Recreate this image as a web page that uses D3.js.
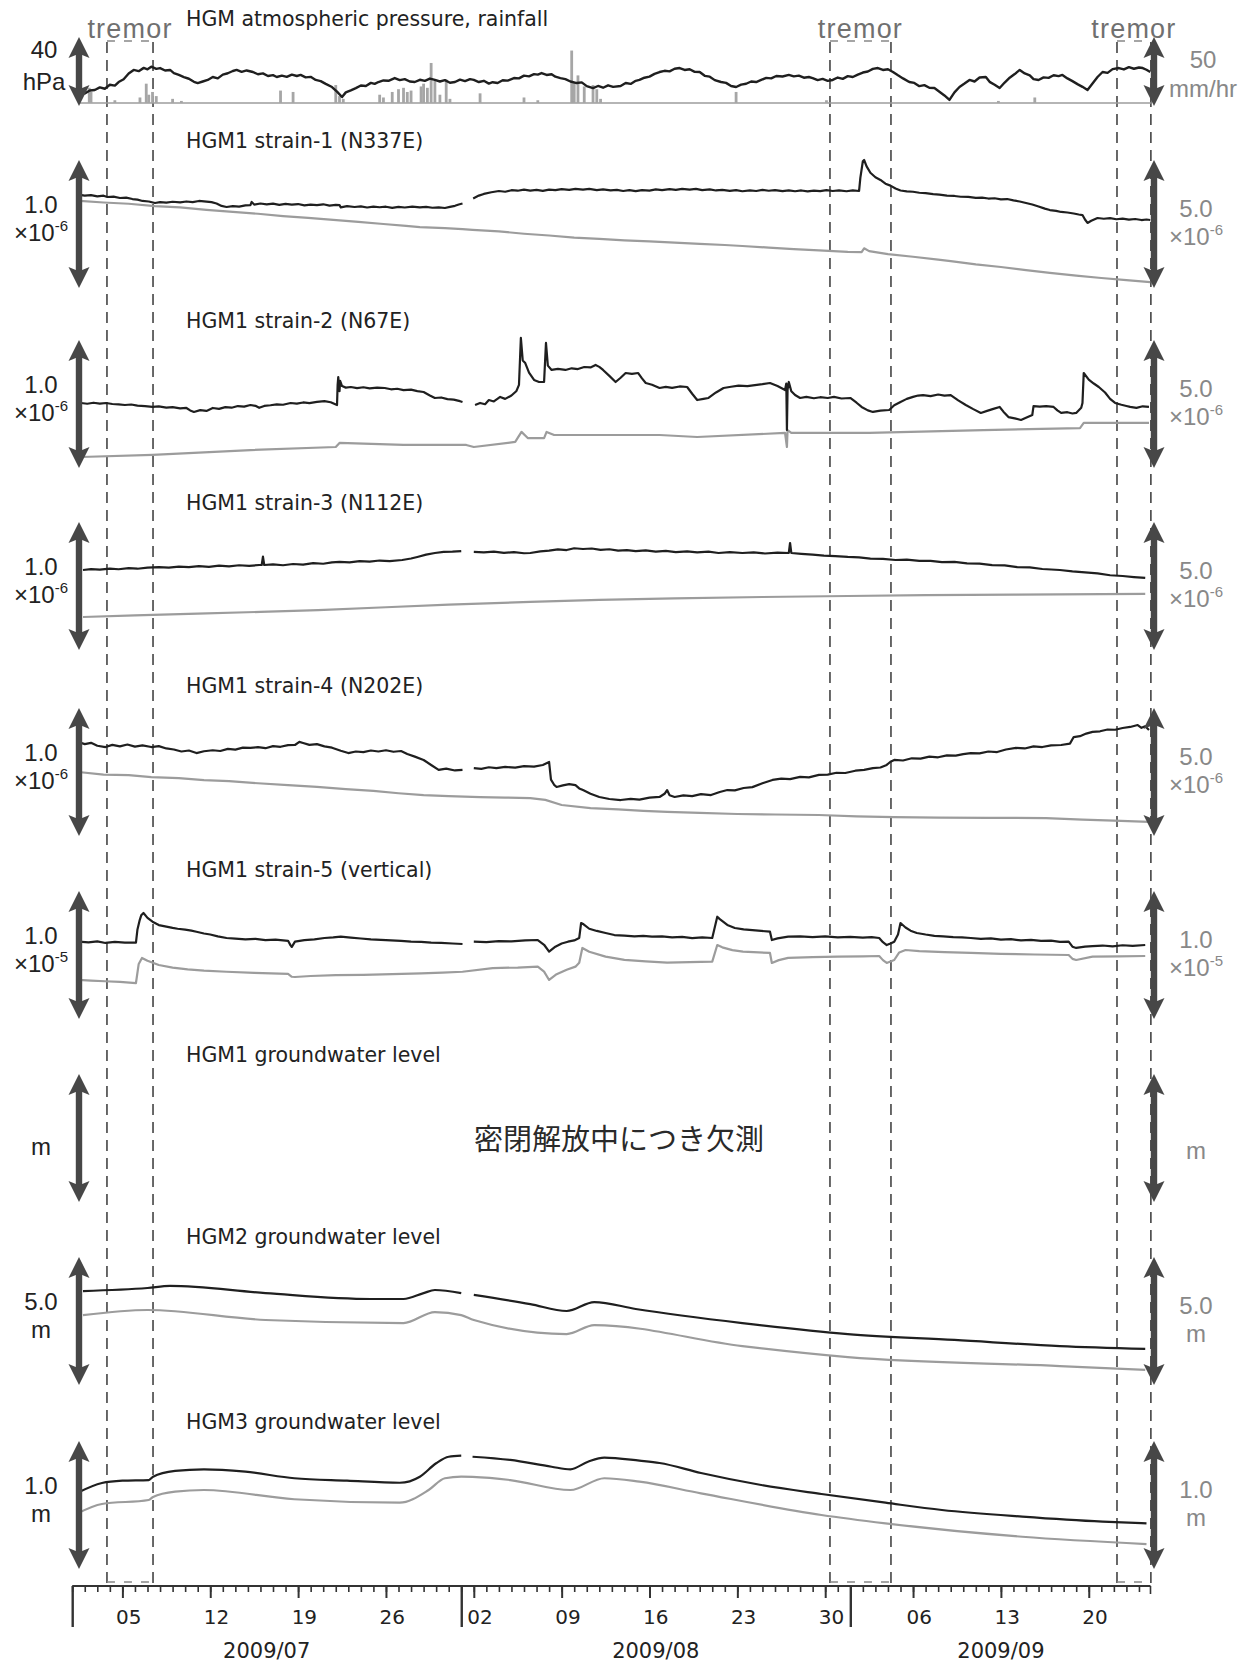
<!DOCTYPE html>
<html>
<head>
<meta charset="utf-8">
<script src="https://cdn.jsdelivr.net/npm/d3@7"></script>
<style>
  html, body { margin: 0; padding: 0; background: #fff; }
  svg { display: block; }
</style>
</head>
<body>
<svg id="chart" width="1251" height="1662"></svg>
<script>
// ---------- data: [day since 2009-07-01 00:00 UTC, value] ----------

// atmospheric pressure (hPa, relative)
const pressure = [[0.6,8.1],[1.0,7.2],[1.4,9.0],[1.8,9.3],[2.2,10.8],[2.6,10.0],[3.0,12.3],[3.4,11.8],[3.7,13.9],[4.1,15.5],[4.5,18.8],[4.9,20.9],[5.3,20.2],[5.7,22.1],[6.0,21.3],[6.3,22.8],[6.7,21.5],[7.0,22.0],[7.4,20.6],[7.8,20.9],[8.1,19.1],[8.5,18.0],[8.9,16.8],[9.3,15.8],[9.7,14.0],[10.0,13.3],[10.4,14.2],[10.8,15.1],[11.2,16.8],[11.6,16.0],[12.0,18.2],[12.4,19.0],[12.8,20.3],[13.1,20.9],[13.5,19.8],[13.9,20.6],[14.4,19.7],[14.8,18.4],[15.2,18.9],[15.6,17.4],[16.0,17.9],[16.3,16.8],[16.7,17.6],[17.1,16.9],[17.5,18.2],[17.9,17.4],[18.2,18.0],[18.6,16.6],[19.0,16.9],[19.4,15.1],[19.8,14.4],[20.2,12.8],[20.7,11.0],[21.1,8.3],[21.5,5.2],[21.8,7.9],[22.2,9.1],[22.6,10.4],[23.0,11.9],[23.4,11.6],[23.8,13.4],[24.1,12.8],[24.4,13.9],[24.8,14.8],[25.2,14.6],[25.7,16.2],[26.1,15.0],[26.5,15.6],[26.9,14.2],[27.3,13.9],[27.7,15.2],[28.1,14.6],[28.5,15.9],[28.9,15.1],[29.3,14.2],[29.7,15.0],[30.1,13.5],[30.5,13.9],[30.9,15.3],[31.3,14.4],[31.7,15.6],[32.0,15.1],[32.4,13.9],[32.8,14.6],[33.2,13.0],[33.5,13.8],[33.9,13.3],[34.3,14.9],[34.7,14.7],[35.2,16.2],[35.6,16.0],[36.0,17.6],[36.4,17.2],[36.8,18.5],[37.1,18.2],[37.4,19.1],[37.8,18.0],[38.2,18.4],[38.5,17.0],[38.9,16.2],[39.3,15.6],[39.7,14.2],[40.2,13.3],[40.6,13.7],[41.0,11.5],[41.5,10.4],[41.9,11.6],[42.3,10.6],[42.7,12.0],[43.1,11.1],[43.7,11.6],[44.1,13.3],[44.5,12.8],[44.9,14.6],[45.2,15.1],[45.6,16.4],[46.0,17.0],[46.4,18.6],[46.8,19.7],[47.2,20.4],[47.6,20.1],[48.0,21.6],[48.4,22.0],[48.8,20.9],[49.2,21.3],[49.6,19.8],[50.0,19.7],[50.4,17.5],[50.8,17.0],[51.2,15.0],[51.7,13.9],[52.1,13.4],[52.5,11.6],[52.9,11.0],[53.3,12.4],[53.7,12.9],[54.1,14.2],[54.5,13.9],[54.9,15.1],[55.3,16.3],[55.7,16.0],[56.1,17.4],[56.6,17.1],[57.1,18.0],[57.5,17.2],[57.9,17.6],[58.3,16.4],[58.7,16.8],[59.0,16.2],[59.4,15.0],[59.8,15.7],[60.2,14.6],[60.6,15.1],[61.0,16.5],[61.4,15.7],[61.8,17.3],[62.2,16.8],[62.6,18.2],[63.0,19.4],[63.4,20.0],[63.8,21.5],[64.2,22.0],[64.6,20.9],[65.0,21.3],[65.4,19.7],[65.8,17.8],[66.2,16.0],[66.7,13.9],[67.1,13.4],[67.5,11.5],[67.9,12.1],[68.3,10.6],[68.7,10.4],[69.1,8.3],[69.5,6.1],[69.9,3.5],[70.3,7.9],[70.7,11.0],[71.1,13.0],[71.5,15.1],[71.9,14.2],[72.3,16.5],[72.8,16.8],[73.1,14.0],[73.5,12.3],[73.9,10.4],[74.3,13.6],[74.7,16.4],[75.1,18.5],[75.5,20.9],[75.9,18.9],[76.3,17.8],[76.6,15.6],[77.0,15.1],[77.4,16.6],[77.8,16.3],[78.2,17.8],[78.6,17.3],[78.9,18.0],[79.3,16.0],[79.7,14.4],[80.1,12.7],[80.5,11.1],[80.9,9.3],[81.3,13.0],[81.7,16.8],[82.1,19.7],[82.5,19.2],[82.9,21.4],[83.4,22.0],[83.8,21.2],[84.2,22.5],[84.6,21.6],[85.0,22.3],[85.3,22.0],[85.6,21.0],[85.9,19.7]];

// hourly rainfall (mm/hr)
const rainfall = [[1.36,11],[1.5,8],[3.4,2],[5.4,4],[5.9,14],[6.1,6],[6.4,8],[6.7,5],[8.0,3],[8.7,1.5],[16.6,9],[17.6,8],[21.0,13],[21.3,5],[21.6,3],[24.5,6],[24.8,4],[25.5,8],[26.0,10],[26.4,11],[26.7,8],[27.0,9],[27.8,12],[28.0,14],[28.3,11],[28.6,29],[28.9,16],[29.3,6],[29.8,17],[30.1,3],[32.5,7],[36.0,4],[37.1,2],[39.8,38],[40.0,15],[40.3,20],[40.8,12],[41.5,13],[41.8,10],[42.1,3],[52.9,8],[60.1,2],[73.8,1.5],[76.7,4]];

// HGM1 strain-1 (x1e-6): observed / corrected
const strain1Obs = [[0.6,.727],[1.0,.722],[1.5,.726],[2.0,.716],[2.5,.721],[2.8,.711],[3.3,.714],[3.8,.703],[4.3,.706],[4.8,.695],[5.2,.690],[5.6,.680],[6.1,.676],[6.6,.664],[7.0,.671],[7.5,.667],[8.0,.674],[8.6,.669],[9.1,.676],[9.6,.671],[10.1,.680],[10.7,.675],[11.1,.671],[11.5,.660],[11.9,.641],[12.3,.633],[12.8,.640],[13.3,.636],[13.8,.645],[14.2,.648],[14.3,.672],[14.5,.652],[15.0,.660],[15.5,.653],[16.0,.659],[16.5,.650],[17.0,.657],[17.5,.651],[18.0,.656],[18.5,.645],[19.0,.652],[19.5,.647],[20.0,.654],[20.5,.644],[21.0,.650],[21.3,.648],[21.4,.630],[21.9,.640],[22.5,.633],[23.0,.638],[23.5,.629],[24.0,.636],[24.5,.631],[25.0,.635],[25.5,.626],[26.0,.634],[26.5,.629],[27.1,.636],[27.7,.630],[28.2,.634],[28.7,.627],[29.2,.630],[29.7,.625],[30.1,.634],[30.5,.642],[30.8,.652],[31.1,.660],[31.5,null],[31.95,.700],[32.4,.722],[32.8,.735],[33.4,.748],[34.0,.758],[34.5,.752],[35.0,.764],[35.5,.760],[36.0,.768],[36.5,.761],[37.0,.766],[37.5,.759],[38.0,.769],[38.5,.764],[39.0,.772],[39.6,.766],[40.1,.775],[40.7,.769],[41.2,.774],[41.8,.765],[42.3,.770],[42.9,.762],[43.4,.767],[43.9,.758],[44.4,.764],[44.9,.757],[45.4,.765],[46.0,.761],[46.5,.770],[47.0,.764],[47.6,.773],[48.1,.767],[48.6,.775],[49.2,.769],[49.7,.774],[50.2,.765],[50.8,.770],[51.3,.762],[51.8,.767],[52.4,.759],[52.9,.764],[53.4,.756],[54.0,.763],[54.5,.758],[55.0,.766],[55.5,.760],[56.0,.765],[56.6,.757],[57.1,.763],[57.6,.756],[58.1,.762],[58.6,.755],[59.1,.761],[59.6,.757],[60.1,.764],[60.6,.758],[61.1,.763],[61.7,.756],[62.2,.762],[62.7,.758],[62.8,.86],[63.0,.99],[63.1,1.0],[63.3,.95],[63.6,.90],[64.0,.865],[64.4,.844],[64.8,.815],[65.2,.80],[65.6,.778],[66.0,.762],[66.5,.755],[67.0,.752],[67.5,.744],[68.0,.741],[68.6,.733],[69.1,.730],[69.7,.722],[70.3,.719],[70.8,.713],[71.4,.712],[72.0,.704],[72.5,.706],[73.0,.699],[73.5,.701],[74.0,.693],[74.5,.695],[75.0,.684],[75.5,.676],[76.0,.664],[76.5,.652],[77.0,.637],[77.5,.620],[77.9,.609],[78.4,.603],[78.8,.594],[79.3,.590],[79.8,.582],[80.2,.574],[80.5,.570],[80.7,.535],[80.9,.508],[81.2,.525],[81.7,.547],[82.2,.541],[82.7,.546],[83.2,.537],[83.7,.542],[84.2,.534],[84.7,.539],[85.2,.531],[85.6,.535],[85.9,.531]];
const strain1Cor = [[0.6,3.40],[2.5,3.34],[4.5,3.29],[6.6,3.20],[8.6,3.15],[10.7,3.05],[12.8,2.97],[14.8,2.90],[16.8,2.81],[18.8,2.74],[20.8,2.66],[22.8,2.58],[24.8,2.50],[26.6,2.43],[27.7,2.38],[29.7,2.34],[31.1,2.30],[31.9,2.27],[34,2.21],[36,2.12],[38,2.05],[40,1.97],[42,1.92],[44,1.86],[46,1.82],[48,1.77],[50,1.72],[52,1.68],[53.4,1.64],[55.5,1.58],[57.5,1.52],[59.5,1.47],[61.8,1.41],[62.9,1.40],[63.1,1.55],[63.5,1.44],[65,1.32],[67,1.22],[69,1.11],[70,1.05],[72,0.92],[74,0.82],[76,0.70],[77.9,0.59],[80,0.48],[82,0.39],[84,0.31],[85.9,0.23]];

// HGM1 strain-2 (x1e-6)
const strain2Obs = [[0.7,.508],[1.2,.502],[1.7,.510],[2.2,.503],[2.7,.508],[3.2,.500],[3.7,.497],[4.2,.492],[4.7,.496],[5.2,.487],[5.8,.483],[6.4,.477],[6.9,.481],[7.5,.472],[8.0,.476],[8.6,.466],[9.1,.469],[9.4,.450],[9.7,.438],[10.2,.452],[10.7,.446],[11.2,.469],[11.7,.462],[12.2,.476],[12.7,.471],[13.2,.484],[13.7,.479],[14.2,.492],[14.6,.486],[14.9,.470],[15.3,.485],[15.8,.490],[16.3,.497],[16.8,.494],[17.4,.508],[17.9,.503],[18.4,.512],[18.9,.507],[19.5,.516],[20.1,.523],[20.6,.514],[21.1,.492],[21.15,.648],[21.2,.711],[21.3,.600],[21.35,.680],[21.5,.640],[21.8,.628],[22.2,.633],[22.7,.624],[23.2,.631],[23.7,.622],[24.3,.628],[24.9,.625],[25.4,.615],[25.9,.619],[26.4,.608],[27.0,.612],[27.5,.601],[28.0,.594],[28.5,.567],[28.9,.547],[29.4,.551],[29.9,.538],[30.4,.534],[30.9,.522],[31.1,.516],[31.5,null],[32.1,.492],[32.5,.508],[32.9,.498],[33.2,.531],[33.6,.520],[34.1,.555],[34.5,.540],[35.0,.566],[35.4,.602],[35.6,.65],[35.75,1.016],[35.9,.84],[36.1,.82],[36.4,.745],[36.8,.688],[37.2,.672],[37.6,.672],[37.75,.977],[37.9,.80],[38.2,.766],[38.7,.775],[39.3,.766],[39.8,.779],[40.3,.773],[40.8,.789],[41.3,.786],[41.7,.805],[42.0,.790],[42.3,.766],[42.8,.720],[43.3,.672],[43.7,.705],[44.1,.742],[44.6,.735],[45.1,.742],[45.4,.700],[45.7,.664],[46.2,.650],[46.8,.625],[47.3,.634],[47.8,.626],[48.4,.637],[49.0,.633],[49.4,.580],[49.8,.531],[50.3,.540],[50.7,.547],[51.3,.590],[51.9,.625],[52.5,.635],[53.1,.644],[53.8,.640],[54.4,.648],[55.0,.655],[55.6,.664],[56.2,.640],[56.8,.609],[56.9,.66],[56.95,.297],[57.0,.61],[57.1,.672],[57.3,.60],[57.6,.570],[58.0,.547],[58.5,.556],[59.1,.545],[59.6,.553],[60.2,.547],[60.7,.556],[61.3,.543],[62.0,.547],[62.5,.510],[62.9,.477],[63.4,.450],[63.8,.438],[64.4,.448],[65.1,.453],[65.5,.490],[66.0,.516],[66.5,.540],[67.0,.556],[67.4,.566],[67.8,.570],[68.4,.562],[69.0,.574],[69.5,.566],[70.0,.570],[70.6,.528],[71.2,.492],[71.8,.460],[72.4,.430],[72.9,.446],[73.4,.462],[73.9,.477],[74.2,.440],[74.6,.398],[75.1,.388],[75.6,.375],[76.0,.392],[76.5,.414],[76.6,.484],[77.1,.480],[77.6,.484],[78.2,.477],[78.5,.450],[78.8,.430],[79.3,.436],[79.7,.426],[80.0,.430],[80.4,.470],[80.5,.508],[80.6,.742],[81.0,.69],[81.4,.66],[81.8,.633],[82.3,.590],[82.7,.540],[83.1,.508],[83.6,.494],[84.0,.484],[84.3,.477],[84.8,.470],[85.3,.482],[85.8,.477]];
const strain2Cor = [[0.7,0.43],[6.4,0.51],[14.2,0.70],[21.0,0.82],[21.3,0.98],[26.4,0.90],[31.4,0.90],[32.0,0.82],[35.3,1.02],[35.8,1.41],[36.3,1.17],[37.6,1.17],[37.8,1.41],[38.4,1.29],[46.8,1.29],[49.8,1.21],[56.8,1.37],[56.95,0.82],[57.0,1.48],[57.3,1.37],[63.5,1.37],[72.6,1.48],[80.3,1.56],[80.6,1.76],[85.8,1.76]];

// HGM1 strain-3 (x1e-6)
const strain3Obs = [[0.86,.625],[1.5,.632],[2.2,.628],[3.0,.636],[3.7,.631],[4.5,.640],[5.2,.635],[6.0,.644],[6.9,.648],[7.7,.643],[8.5,.652],[9.3,.647],[10.1,.655],[10.9,.650],[11.7,.659],[12.5,.654],[13.3,.662],[14.1,.657],[14.9,.664],[15.1,.664],[15.2,.73],[15.3,.664],[16.0,.669],[16.8,.662],[17.6,.672],[18.4,.667],[19.2,.679],[20.0,.674],[20.7,.685],[21.3,.688],[22.1,.684],[22.9,.694],[23.7,.690],[24.5,.699],[25.3,.694],[26.3,.703],[27.0,.715],[27.5,.727],[28.2,.745],[28.9,.758],[29.6,.766],[30.3,.768],[31.0,.773],[31.5,null],[32.0,.766],[32.8,.762],[33.6,.768],[34.4,.759],[35.2,.764],[36.0,.756],[36.5,.758],[37.3,.770],[38.0,.776],[38.7,.786],[39.4,.781],[40.0,.795],[40.7,.789],[41.4,.793],[42.1,.782],[42.8,.787],[43.5,.776],[44.2,.780],[44.9,.773],[45.7,.778],[46.5,.768],[47.3,.774],[48.1,.765],[49.0,.771],[49.8,.762],[50.7,.768],[51.5,.758],[52.4,.764],[53.4,.758],[54.3,.762],[55.2,.754],[56.2,.761],[57.1,.758],[57.2,.836],[57.3,.758],[58.1,.751],[59.0,.745],[59.9,.738],[60.8,.734],[61.8,.727],[62.7,.724],[63.6,.714],[64.6,.712],[65.6,.703],[66.5,.706],[67.5,.696],[68.4,.697],[69.3,.686],[70.3,.688],[71.3,.677],[72.3,.675],[73.3,.663],[74.3,.661],[75.3,.648],[76.3,.646],[77.3,.633],[78.7,.625],[79.7,.614],[80.7,.606],[81.7,.598],[82.7,.584],[83.7,.578],[84.6,.570],[85.5,.563]];
const strain3Cor = [[0.86,1.29],[5,1.35],[10,1.42],[15,1.49],[19.6,1.56],[25,1.67],[30,1.77],[36.5,1.88],[42,1.96],[48,2.02],[55,2.07],[61.8,2.11],[68,2.14],[75,2.16],[85.5,2.19]];

// HGM1 strain-4 (x1e-6)
const strain4Obs = [[0.5,.734],[1.0,.718],[1.5,.728],[2.0,.705],[2.65,.695],[3.2,.712],[3.8,.700],[4.4,.715],[5.0,.698],[5.6,.708],[6.3,.695],[6.9,.702],[7.5,.684],[8.1,.676],[8.7,.660],[9.3,.668],[9.9,.648],[10.5,.662],[11.2,.670],[11.8,.664],[12.4,.681],[13.0,.675],[13.6,.690],[14.2,.688],[14.8,.695],[15.4,.686],[16.0,.702],[16.6,.697],[17.2,.710],[17.75,.711],[18.1,.735],[18.4,.727],[18.9,.712],[19.5,.718],[20.1,.700],[20.7,.690],[21.4,.666],[22.0,.648],[22.6,.660],[23.2,.655],[23.8,.668],[24.4,.660],[25.0,.670],[25.6,.658],[26.2,.664],[26.7,.640],[27.3,.620],[28.0,.594],[28.6,.555],[29.2,.516],[29.8,.526],[30.5,.512],[31.1,.516],[31.5,null],[32.0,.531],[32.6,.525],[33.2,.537],[33.8,.530],[34.5,.540],[35.3,.534],[36.0,.546],[36.8,.542],[37.5,.555],[38.0,.578],[38.15,.44],[38.4,.40],[38.6,.383],[39.1,.395],[39.6,.405],[40.1,.398],[40.4,.372],[40.7,.359],[41.3,.330],[42.0,.305],[42.8,.289],[43.7,.281],[44.5,.290],[45.2,.284],[46.0,.300],[46.8,.305],[47.2,.330],[47.4,.359],[47.6,.318],[48.0,.305],[48.7,.318],[49.4,.312],[50.1,.327],[50.9,.320],[51.6,.344],[52.2,.359],[52.8,.356],[53.5,.375],[54.2,.382],[55.0,.412],[55.8,.438],[56.5,.448],[57.2,.444],[58.0,.462],[58.7,.458],[59.5,.477],[60.2,.480],[60.9,.494],[61.6,.492],[62.4,.510],[63.1,.516],[63.8,.530],[64.4,.535],[64.9,.555],[65.2,.58],[65.5,.594],[66.2,.590],[66.9,.607],[67.6,.604],[68.3,.620],[69.0,.615],[69.7,.630],[70.4,.628],[71.0,.640],[71.6,.648],[72.3,.645],[73.0,.660],[73.7,.656],[74.4,.676],[75.2,.688],[75.9,.684],[76.6,.700],[77.3,.695],[78.0,.708],[78.8,.711],[79.5,.722],[79.8,.773],[80.3,.780],[80.8,.800],[81.3,.813],[81.9,.818],[82.5,.832],[83.1,.830],[83.7,.844],[84.3,.852],[84.9,.867],[85.2,.845],[85.5,.858],[85.8,.828]];
const strain4Cor = [[0.5,2.50],[2.5,2.40],[4.5,2.38],[6.3,2.30],[8.5,2.26],[10.5,2.18],[12.5,2.14],[14.8,2.06],[17.2,1.99],[19.5,1.92],[21.8,1.83],[24,1.76],[26,1.67],[28.0,1.60],[30,1.56],[32.5,1.52],[34.5,1.50],[36.5,1.48],[37.7,1.41],[39.0,1.21],[41.3,1.09],[43.5,1.04],[45.5,0.98],[47.4,0.94],[50,0.90],[53,0.86],[56,0.84],[59.5,0.82],[62.5,0.77],[65.5,0.74],[69,0.72],[73,0.71],[77.6,0.70],[80.5,0.64],[83,0.60],[85.8,0.55]];

// HGM1 strain-5, vertical (x1e-5)
const strain5Obs = [[0.5,.604],[1.3,.598],[2.0,.606],[2.65,.594],[3.4,.602],[4.2,.596],[5.08,.596],[5.2,.70],[5.38,.773],[5.5,.81],[5.68,.828],[6.0,.790],[6.4,.760],[6.9,.734],[7.4,.724],[8.0,.712],[8.4,.705],[9.0,.698],[9.5,.690],[9.9,.682],[10.5,.668],[11.0,.660],[11.6,.646],[12.3,.633],[13.0,.628],[13.8,.622],[14.6,.626],[15.4,.616],[16.2,.620],[17.2,.611],[17.4,.575],[17.5,.563],[17.75,.604],[18.5,.616],[19.3,.622],[20.1,.633],[20.8,.637],[21.4,.643],[22.2,.636],[23.0,.629],[23.8,.622],[24.6,.618],[25.4,.614],[26.2,.611],[27.0,.605],[27.8,.602],[28.6,.596],[29.4,.594],[30.3,.590],[31.1,.586],[31.5,null],[32.0,.604],[33.0,.600],[34.0,.608],[35.0,.606],[36.1,.614],[37.1,.617],[37.6,.580],[38.0,.526],[38.5,.565],[39.0,.590],[39.5,.604],[40.0,.614],[40.4,.633],[40.55,.75],[40.75,.740],[41.2,.705],[41.8,.688],[42.5,.672],[43.2,.656],[44.0,.652],[44.8,.646],[45.5,.649],[46.2,.643],[47.0,.645],[47.8,.638],[48.6,.642],[49.4,.632],[50.2,.638],[51.0,.633],[51.4,.799],[51.6,.780],[52.2,.735],[52.8,.711],[53.5,.700],[54.2,.695],[54.9,.688],[55.6,.682],[55.75,.617],[56.2,.630],[57.05,.643],[58.0,.646],[59.0,.640],[60.0,.645],[61.0,.637],[62.0,.642],[63.0,.635],[63.7,.640],[64.3,.633],[64.6,.600],[64.9,.578],[65.2,.590],[65.5,.604],[65.8,.66],[66.0,.75],[66.4,.715],[66.8,.690],[67.3,.672],[68.0,.660],[68.7,.650],[69.4,.646],[70.2,.640],[70.9,.637],[71.6,.633],[72.4,.626],[73.2,.630],[74.0,.620],[74.8,.624],[75.6,.614],[76.4,.618],[77.2,.610],[78.0,.612],[78.7,.603],[79.4,.604],[79.7,.565],[80.0,.555],[80.7,.566],[81.3,.570],[82.1,.574],[82.9,.568],[83.7,.576],[84.5,.571],[85.5,.578]];
const strain5Cor = [[0.5,.305],[1.5,.300],[2.6,.295],[3.8,.290],[5.08,.281],[5.3,.43],[5.56,.477],[6.0,.455],[6.9,.422],[8.0,.402],[9.2,.388],[10.5,.378],[12.3,.369],[14.5,.360],[17.2,.352],[17.5,.330],[17.75,.328],[19.0,.336],[21.0,.342],[23.2,.344],[25.5,.350],[27.8,.356],[29.5,.362],[31.1,.369],[33.5,.398],[35.5,.402],[37.1,.409],[37.6,.370],[38.0,.305],[38.6,.350],[39.4,.385],[40.1,.409],[40.4,.440],[40.65,.555],[41.2,.525],[42.5,.487],[44.0,.462],[45.7,.450],[47.4,.440],[49.2,.444],[51.0,.448],[51.4,.578],[51.8,.560],[52.6,.538],[53.45,.526],[55.6,.516],[55.75,.438],[56.3,.460],[57.05,.477],[59.0,.484],[61.0,.488],[63.0,.490],[64.3,.492],[64.6,.460],[64.9,.438],[65.5,.461],[65.9,.52],[66.4,.539],[67.5,.530],[69.5,.522],[71.6,.516],[74.0,.509],[76.7,.504],[79.4,.500],[79.7,.470],[80.0,.461],[81.3,.487],[83.4,.490],[85.5,.492]];

// HGM2 groundwater level (m)
const gw2Obs = [[0.86,3.67],[6.0,3.79],[7.8,3.87],[15.4,3.59],[23.8,3.36],[26.4,3.36],[28.0,3.59],[28.9,3.71],[31.0,3.59],[31.5,null],[32.0,3.52],[36.5,3.16],[39.4,2.89],[41.6,3.24],[44.9,2.97],[53.4,2.42],[61.8,1.99],[70.3,1.76],[78.7,1.52],[85.5,1.41]];
const gw2Cor = [[0.86,2.73],[6.0,2.93],[15.4,2.54],[26.4,2.42],[28.9,2.85],[31.0,2.73],[32.0,2.54],[39.4,1.99],[41.6,2.34],[53.4,1.52],[61.8,1.09],[78.7,0.74],[85.5,0.59]];

// HGM3 groundwater level (m)
const gw3Obs = [[0.43,0.596],[2.37,0.672],[4.0,0.690],[6.1,0.695],[6.44,0.721],[8.2,0.766],[10.5,0.779],[13.8,0.760],[17.7,0.709],[21.9,0.690],[26.1,0.674],[27.7,0.721],[29.0,0.826],[30.0,0.877],[31.0,0.885],[31.4,null],[31.9,0.877],[34.9,0.852],[38.2,0.799],[39.7,0.779],[41.1,0.838],[42.4,0.870],[45.2,0.846],[46.8,0.828],[50.1,0.750],[54.9,0.656],[59.7,0.586],[64.8,0.518],[69.3,0.461],[75.7,0.409],[82.1,0.370],[85.6,0.357]];
const gw3Cor = [[0.43,0.435],[2.37,0.508],[6.1,0.539],[6.44,0.563],[8.2,0.604],[10.5,0.617],[17.7,0.545],[26.1,0.518],[28.4,0.617],[29.7,0.709],[31.0,0.721],[31.9,0.719],[34.9,0.695],[39.7,0.617],[42.4,0.709],[45.2,0.682],[50.1,0.591],[59.7,0.422],[64.8,0.357],[75.7,0.252],[85.6,0.195]];

// tremor episodes (day ranges)
const tremors = [[2.77, 6.44], [60.38, 65.24], [83.25, 85.95]];

// panel titles and scale-arrow labels
const titles = ["HGM atmospheric pressure, rainfall", "HGM1 strain-1 (N337E)", "HGM1 strain-2 (N67E)", "HGM1 strain-3 (N112E)", "HGM1 strain-4 (N202E)", "HGM1 strain-5 (vertical)", "HGM1 groundwater level", "HGM2 groundwater level", "HGM3 groundwater level"];
const leftSpans  = [40, 1.0, 1.0, 1.0, 1.0, 1.0, 1.0, 5.0, 1.0];
const rightSpans = [50, 5.0, 5.0, 5.0, 5.0, 1.0, 1.0, 5.0, 1.0];
const leftLabels  = [["40","hPa",""],["1.0","×10","-6"],["1.0","×10","-6"],["1.0","×10","-6"],["1.0","×10","-6"],["1.0","×10","-5"],["","m",""],["5.0","m",""],["1.0","m",""]];
const rightLabels = [["50","mm/hr",""],["5.0","×10","-6"],["5.0","×10","-6"],["5.0","×10","-6"],["5.0","×10","-6"],["1.0","×10","-5"],["","m",""],["5.0","m",""],["1.0","m",""]];
const observed  = [pressure, strain1Obs, strain2Obs, strain3Obs, strain4Obs, strain5Obs, null, gw2Obs, gw3Obs];
const corrected = [null, strain1Cor, strain2Cor, strain3Cor, strain4Cor, strain5Cor, null, gw2Cor, gw3Cor];
const smoothPanels = [7, 8];
const missingNote = "密閉解放中につき欠測";

const weekLabelDays = ["2009-07-05","2009-07-12","2009-07-19","2009-07-26","2009-08-02","2009-08-09","2009-08-16","2009-08-23","2009-08-30","2009-09-06","2009-09-13","2009-09-20"];
const monthStarts = ["2009-07-01","2009-08-01","2009-09-01"];
const monthLabels = [["2009/07","2009-07-16T12:00Z"],["2009/08","2009-08-16T12:00Z"],["2009/09","2009-09-13T00:00Z"]];

// ---------- layout ----------
const svg = d3.select("#chart");
const DARK = "#1f1f1f", GREY = "#9c9c9c", ARROW = "#474747";
const t0 = Date.UTC(2009, 6, 1);
const toDate = d => new Date(t0 + d * 864e5);
const x = d3.scaleUtc().domain([toDate(0), toDate(85.92)]).range([72.2, 1150.5]);

// vertical placement of each panel (arrow top / bottom, title centre)
const frames = [
  {ty: 18,   top: 37,   bot: 106},
  {ty: 140,  top: 160,  bot: 288},
  {ty: 320,  top: 340,  bot: 468},
  {ty: 502,  top: 522,  bot: 650},
  {ty: 685,  top: 708,  bot: 836},
  {ty: 869,  top: 891,  bot: 1019},
  {ty: 1054, top: 1074, bot: 1202},
  {ty: 1236, top: 1257, bot: 1385},
  {ty: 1421, top: 1441, bot: 1569}
];
const leftArrowX = 79, rightArrowX = 1154;
const axisY = 1586;

function arrow(cx, y0, y1) {
  const hw = 10.5, hh = 21, sw = 3.2, n = 3;
  const d = `M${cx},${y0} L${cx+hw},${y0+hh} L${cx+sw},${y0+hh-n} L${cx+sw},${y1-hh+n} L${cx+hw},${y1-hh} L${cx},${y1} L${cx-hw},${y1-hh} L${cx-sw},${y1-hh+n} L${cx-sw},${y0+hh-n} L${cx-hw},${y0+hh} Z`;
  svg.append("path").attr("d", d).attr("fill", ARROW);
}

function unitLabel(cx, base1, base2, spec, color) {
  const g = svg.append("g").attr("font-family", "'Liberation Sans', Arial, sans-serif")
    .attr("font-size", 24).attr("fill", color).attr("text-anchor", "middle");
  if (spec[0]) g.append("text").attr("x", cx).attr("y", base1).text(spec[0]);
  const t = g.append("text").attr("x", cx).attr("y", base2);
  t.append("tspan").text(spec[1]);
  if (spec[2]) t.append("tspan").attr("dy", -10).attr("font-size", 15).text(spec[2]);
}

const lineGen = (y, smooth) => d3.line()
  .defined(d => d[1] !== null)
  .curve(smooth ? d3.curveMonotoneX : d3.curveLinear)
  .x(d => x(toDate(d[0])))
  .y(d => y(d[1]));

// tremor guides (drawn under the data)
const guides = svg.append("g").attr("stroke", "#444").attr("stroke-width", 1.6).attr("fill", "none");
tremors.forEach(([a, b]) => {
  [a, b].forEach(d => {
    guides.append("line").attr("x1", x(toDate(d))).attr("x2", x(toDate(d)))
      .attr("y1", 42).attr("y2", axisY).attr("stroke-dasharray", "11,7");
  });
  [41, axisY - 4].forEach(yy => {
    guides.append("line").attr("x1", x(toDate(a))).attr("x2", x(toDate(b)))
      .attr("y1", yy).attr("y2", yy).attr("stroke", "#888").attr("stroke-width", 1.3)
      .attr("stroke-dasharray", "8,9");
  });
  svg.append("text").attr("x", (x(toDate(a)) + x(toDate(b))) / 2).attr("y", 38)
    .attr("text-anchor", "middle").attr("font-family", "'Liberation Sans', Arial, sans-serif")
    .attr("font-size", 27).attr("letter-spacing", 1.2).attr("fill", "#707070").text("tremor");
});

// panels
frames.forEach((f, i) => {
  svg.append("text").attr("x", 186).attr("y", f.ty + 7.5)
    .attr("font-family", "'DejaVu Sans', Verdana, sans-serif").attr("font-size", 20.5)
    .attr("fill", "#222").text(titles[i]);

  const yL = d3.scaleLinear().domain([0, leftSpans[i]]).range([f.bot, f.top]);
  const yR = d3.scaleLinear().domain([0, rightSpans[i]]).range([f.bot, f.top]);
  const smooth = smoothPanels.includes(i);

  if (i === 0) {
    // rainfall bars on their own baseline
    const rainBase = 103;
    const yRain = d3.scaleLinear().domain([0, rightSpans[0]]).range([rainBase, rainBase - (f.bot - f.top)]);
    svg.append("line").attr("x1", x(toDate(0.5))).attr("x2", x(toDate(85.95)))
      .attr("y1", rainBase).attr("y2", rainBase).attr("stroke", GREY).attr("stroke-width", 1.6);
    svg.append("g").selectAll("rect").data(rainfall).join("rect")
      .attr("x", d => x(toDate(d[0])) - 1.4).attr("width", 2.8)
      .attr("y", d => yRain(d[1])).attr("height", d => rainBase - yRain(d[1]))
      .attr("fill", "#a6a6a6");
  }
  if (corrected[i]) {
    svg.append("path").datum(corrected[i]).attr("d", lineGen(yR, smooth))
      .attr("fill", "none").attr("stroke", GREY).attr("stroke-width", 2.2)
      .attr("stroke-linejoin", "round");
  }
  if (observed[i]) {
    svg.append("path").datum(observed[i]).attr("d", lineGen(yL, smooth))
      .attr("fill", "none").attr("stroke", DARK).attr("stroke-width", i === 0 ? 2.4 : 2.2)
      .attr("stroke-linejoin", "round");
  }

  arrow(leftArrowX, f.top, f.bot);
  arrow(rightArrowX, f.top, f.bot);

  const c = (f.top + f.bot) / 2;
  if (i === 0) {
    unitLabel(44, 58, 90, leftLabels[0], "#222");
    unitLabel(1203, 68, 97, rightLabels[0], "#888");
  } else {
    unitLabel(41, c - 11, c + 17, leftLabels[i], "#222");
    unitLabel(1196, c - 7, c + 21, rightLabels[i], "#888");
  }
  if (i === 6) {
    svg.append("text").attr("x", 619).attr("y", c + 12).attr("text-anchor", "middle")
      .attr("font-family", "'Noto Sans CJK JP', sans-serif").attr("font-size", 29)
      .attr("fill", "#2a2a2a").text(missingNote);
  }
});

// time axis
const axisG = svg.append("g").attr("transform", `translate(0,${axisY})`);
const styleAxis = (sel, w) => {
  sel.select(".domain").remove();
  sel.selectAll("line").attr("stroke", "#333").attr("stroke-width", w);
};
axisG.append("line").attr("x1", x.range()[0]).attr("x2", x.range()[1])
  .attr("stroke", "#333").attr("stroke-width", 2.2);
axisG.append("g").call(d3.axisBottom(x).ticks(d3.utcDay.every(1)).tickSize(6).tickSizeOuter(0).tickFormat(""))
  .call(s => styleAxis(s, 1.6));
axisG.append("g").call(d3.axisBottom(x).tickValues(weekLabelDays.map(d => new Date(d + "T00:00Z"))).tickSize(12).tickSizeOuter(0).tickFormat(""))
  .call(s => styleAxis(s, 2));
axisG.append("g").call(d3.axisBottom(x).tickValues(monthStarts.map(d => new Date(d + "T00:00Z"))).tickSize(41).tickSizeOuter(0).tickFormat(""))
  .call(s => styleAxis(s, 2.4));
axisG.append("line").attr("x1", x.range()[1]).attr("x2", x.range()[1]).attr("y1", 0).attr("y2", 8)
  .attr("stroke", "#333").attr("stroke-width", 1.6);

const fmtDay = d3.utcFormat("%d");
svg.append("g").attr("font-family", "'DejaVu Sans', Verdana, sans-serif").attr("font-size", 20)
  .attr("fill", "#222").attr("text-anchor", "middle")
  .selectAll("text").data(weekLabelDays).join("text")
  .attr("x", d => x(new Date(d + "T12:00Z"))).attr("y", axisY + 38)
  .text(d => fmtDay(new Date(d + "T00:00Z")));
svg.append("g").attr("font-family", "'DejaVu Sans', Verdana, sans-serif").attr("font-size", 21)
  .attr("fill", "#222").attr("text-anchor", "middle")
  .selectAll("text").data(monthLabels).join("text")
  .attr("x", d => x(new Date(d[1]))).attr("y", axisY + 72)
  .text(d => d[0]);
</script>
</body>
</html>
